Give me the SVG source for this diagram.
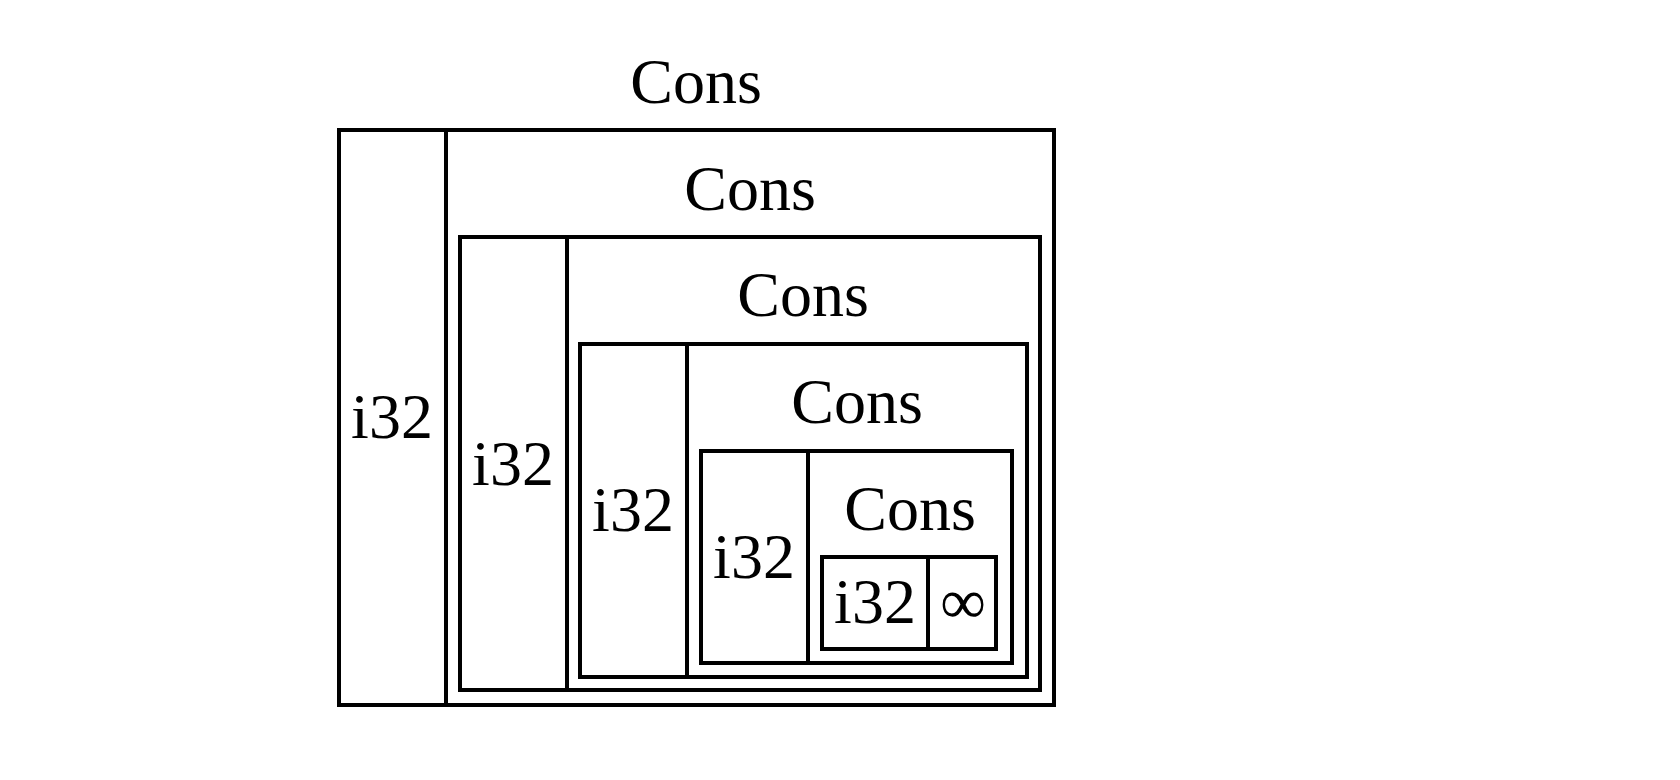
<svg xmlns="http://www.w3.org/2000/svg" width="1680" height="780" viewBox="0 0 1680 780">
<style>
rect{fill:none;stroke:#000;stroke-width:4}
line{stroke:#000;stroke-width:4}
text{font-family:"Liberation Serif","Times New Roman",serif;font-size:64px;fill:#000;text-anchor:middle}
</style>
<rect x="0" y="0" width="1680" height="780" style="fill:#fff;stroke:none"/>
<g id="cons1">
<text x="696" y="103">Cons</text>
<rect x="339" y="130" width="715" height="575"/>
<line x1="446" y1="130" x2="446" y2="705"/>
<text x="392" y="438">i32</text>
</g>
<g id="cons2">
<text x="750" y="210">Cons</text>
<rect x="460" y="237" width="580" height="453"/>
<line x1="567" y1="237" x2="567" y2="690"/>
<text x="513" y="485">i32</text>
</g>
<g id="cons3">
<text x="803" y="316">Cons</text>
<rect x="580" y="344" width="447" height="333"/>
<line x1="687" y1="344" x2="687" y2="677"/>
<text x="633" y="531">i32</text>
</g>
<g id="cons4">
<text x="857" y="423">Cons</text>
<rect x="701" y="451" width="311" height="212"/>
<line x1="808" y1="451" x2="808" y2="663"/>
<text x="754" y="578">i32</text>
</g>
<g id="cons5">
<text x="910" y="530">Cons</text>
<rect x="822" y="557" width="174" height="92"/>
<line x1="928" y1="557" x2="928" y2="649"/>
<text x="875" y="623">i32</text>
<text x="963" y="623">∞</text>
</g>
<g id="connectors"></g>
</svg>
